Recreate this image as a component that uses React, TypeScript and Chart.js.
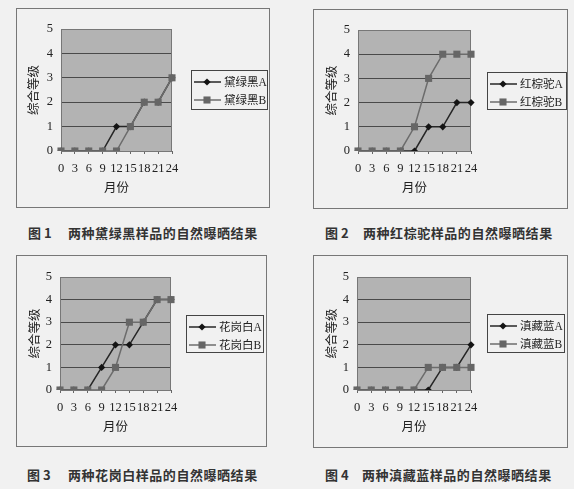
import React, { useEffect, useRef } from "react";
import { Chart, registerables } from "chart.js";

Chart.register(...registerables);

// ---- data ----
const months = ["0", "3", "6", "9", "12", "15", "18", "21", "24"];
const yTitle = "综合等级";
const xTitle = "月份";

const labels1 = ["黛绿黑A", "黛绿黑B"];
const a1 = [0, 0, 0, 0, 1, 1, 2, 2, 3];
const b1 = [0, 0, 0, 0, 0, 1, 2, 2, 3];

const labels2 = ["红棕驼A", "红棕驼B"];
const a2 = [0, 0, 0, 0, 0, 1, 1, 2, 2];
const b2 = [0, 0, 0, 0, 1, 3, 4, 4, 4];

const labels3 = ["花岗白A", "花岗白B"];
const a3 = [0, 0, 0, 1, 2, 2, 3, 4, 4];
const b3 = [0, 0, 0, 0, 1, 3, 3, 4, 4];

const labels4 = ["滇藏蓝A", "滇藏蓝B"];
const a4 = [0, 0, 0, 0, 0, 0, 1, 1, 2];
const b4 = [0, 0, 0, 0, 0, 1, 1, 1, 1];

const figNums = ["图 1", "图 2", "图 3", "图 4"];
const captions = [
  "两种黛绿黑样品的自然曝晒结果",
  "两种红棕驼样品的自然曝晒结果",
  "两种花岗白样品的自然曝晒结果",
  "两种滇藏蓝样品的自然曝晒结果",
];

// ---- styling ----
const FONT_FAMILY = "'Liberation Serif', 'Noto Sans CJK SC', serif";
const X_AXIS_H = 45;
const colorA = "#262626";
const colorB = "#6c6c6c";

type Box = { x: number; y: number; w: number; h: number };
type Area = { left: number; top: number; right: number; bottom: number };
type Leg = { x: number; y: number; w: number; h: number };

function drawMarker(ctx: CanvasRenderingContext2D, style: string, x: number, y: number, r: number, color: string) {
  ctx.fillStyle = color;
  ctx.beginPath();
  if (style === "rectRot") {
    ctx.moveTo(x - r, y);
    ctx.lineTo(x, y - r);
    ctx.lineTo(x + r, y);
    ctx.lineTo(x, y + r);
    ctx.closePath();
  } else {
    const s = Math.SQRT1_2 * r;
    ctx.rect(x - s, y - s, 2 * s, 2 * s);
  }
  ctx.fill();
}

function Panel(props: {
  box: Box;
  area: Area;
  titleX: number;
  legend: Leg;
  labels: string[];
  a: number[];
  b: number[];
  num: string;
  caption: string;
  capX: number;
  capGap: number;
  capY: number;
}) {
  const ref = useRef<HTMLCanvasElement>(null);
  const { box, area, titleX, legend, labels, a, b } = props;

  useEffect(() => {
    if (!ref.current) return;
    const plotPlugin = {
      id: "plotDecor",
      beforeDraw(chart: any) {
        const { ctx, chartArea } = chart;
        const { left, top, right, bottom } = chartArea;
        ctx.save();
        ctx.fillStyle = "#b3b3b3";
        ctx.fillRect(left, top, right - left, bottom - top);
        ctx.restore();
      },
      beforeDatasetsDraw(chart: any) {
        const { ctx, chartArea } = chart;
        const { left, top, right, bottom } = chartArea;
        ctx.save();
        ctx.strokeStyle = "#777";
        ctx.lineWidth = 1;
        ctx.strokeRect(Math.round(left) + 0.5, Math.round(top) + 0.5, Math.round(right - left) - 1, Math.round(bottom - top));
        ctx.restore();
      },
      afterDraw(chart: any) {
        const ctx: CanvasRenderingContext2D = chart.ctx;
        ctx.save();
        ctx.strokeStyle = "#444";
        ctx.lineWidth = 1;
        ctx.strokeRect(legend.x + 0.5, legend.y + 0.5, legend.w, legend.h);
        chart.data.datasets.forEach((ds: any, i: number) => {
          const ry = legend.y + 12 + i * 18;
          ctx.strokeStyle = ds.borderColor;
          ctx.lineWidth = ds.borderWidth;
          ctx.beginPath();
          ctx.moveTo(legend.x + 3, ry);
          ctx.lineTo(legend.x + 30, ry);
          ctx.stroke();
          drawMarker(ctx, ds.pointStyle, legend.x + 16, ry, ds.pointRadius, ds.pointBackgroundColor);
          ctx.fillStyle = "#222";
          ctx.font = "11.5px " + FONT_FAMILY;
          ctx.textBaseline = "middle";
          ctx.textAlign = "left";
          ctx.fillText(ds.label, legend.x + 33, ry + 0.5);
        });
        ctx.restore();
      },
    };

    const font = { family: FONT_FAMILY, size: 12.5 };
    const chart = new Chart(ref.current, {
      type: "line",
      data: {
        labels: months,
        datasets: [
          {
            label: labels[0],
            data: a,
            borderColor: colorA,
            borderWidth: 1.5,
            pointStyle: "rectRot",
            pointRadius: 3.6,
            pointBackgroundColor: "#141414",
            pointBorderWidth: 0,
            tension: 0,
            order: 1,
          },
          {
            label: labels[1],
            data: b,
            borderColor: colorB,
            borderWidth: 1.5,
            pointStyle: "rect",
            pointRadius: 5,
            pointBackgroundColor: "#666",
            pointBorderWidth: 0,
            tension: 0,
            order: 0,
          },
        ],
      },
      options: {
        animation: false,
        responsive: false,
        devicePixelRatio: 1,
        layout: {
          padding: {
            left: 0,
            top: area.top,
            right: box.w - area.right,
            bottom: box.h - area.bottom - X_AXIS_H,
          },
        },
        plugins: { legend: { display: false }, tooltip: { enabled: false } },
        scales: {
          x: {
            type: "category",
            offset: false,
            grid: { display: true, drawOnChartArea: false, drawTicks: true, tickLength: 3, color: "#666" },
            border: { display: false },
            ticks: { color: "#222", font, padding: 7, maxRotation: 0, autoSkip: false },
            title: { display: true, text: xTitle, color: "#222", font, padding: { top: 0, bottom: 0 } },
            afterFit: (s: any) => {
              s.height = X_AXIS_H;
            },
          },
          y: {
            min: 0,
            max: 5,
            ticks: { stepSize: 1, padding: 8, color: "#222", font },
            grid: { color: "#4a4a4a", drawTicks: false },
            border: { display: false },
            title: { display: true, text: yTitle, color: "#222", font, padding: { top: titleX - 7.5, bottom: 0 } },
            afterFit: (s: any) => {
              s.width = area.left;
            },
          },
        },
      },
      plugins: [plotPlugin],
    } as any);
    return () => chart.destroy();
  }, []);

  return (
    <>
      <div
        style={{
          position: "absolute",
          left: box.x,
          top: box.y,
          width: box.w,
          height: box.h,
          boxSizing: "border-box",
          border: "1px solid #777",
        }}
      />
      <canvas
        ref={ref}
        width={box.w}
        height={box.h}
        style={{ position: "absolute", left: box.x, top: box.y, width: box.w, height: box.h }}
      />
      <div
        style={{
          position: "absolute",
          left: props.capX,
          top: props.capY - 8,
          fontFamily: "'Noto Sans CJK SC', sans-serif",
          fontWeight: 700,
          fontSize: 13,
          lineHeight: "16px",
          color: "#333",
          whiteSpace: "nowrap",
        }}
      >
        {props.num}
      </div>
      <div
        style={{
          position: "absolute",
          left: props.capX + props.capGap,
          top: props.capY - 8,
          fontFamily: "'Noto Sans CJK SC', sans-serif",
          fontWeight: 700,
          fontSize: 13,
          letterSpacing: "0.55px",
          lineHeight: "16px",
          color: "#333",
          whiteSpace: "nowrap",
        }}
      >
        {props.caption}
      </div>
    </>
  );
}

export default function App() {
  return (
    <div
      style={{
        position: "fixed",
        left: 0,
        top: 0,
        width: 574,
        height: 489,
        background: "#f1f1f1",
        overflow: "hidden",
      }}
    >
      <Panel
        box={{ x: 16, y: 8, w: 254, h: 200 }}
        area={{ left: 45, top: 21, right: 156, bottom: 143 }}
        titleX={19}
        legend={{ x: 175, y: 62, w: 76, h: 39 }}
        labels={labels1}
        a={a1}
        b={b1}
        num={figNums[0]}
        caption={captions[0]}
        capX={28}
        capGap={40}
        capY={233}
      />
      <Panel
        box={{ x: 313, y: 9, w: 255, h: 200 }}
        area={{ left: 45, top: 21, right: 158, bottom: 142 }}
        titleX={20}
        legend={{ x: 174, y: 63, w: 79, h: 37 }}
        labels={labels2}
        a={a2}
        b={b2}
        num={figNums[1]}
        caption={captions[1]}
        capX={325}
        capGap={38}
        capY={233}
      />
      <Panel
        box={{ x: 16, y: 255, w: 251, h: 192 }}
        area={{ left: 44, top: 22, right: 155, bottom: 135 }}
        titleX={20}
        legend={{ x: 170, y: 60, w: 77, h: 37 }}
        labels={labels3}
        a={a3}
        b={b3}
        num={figNums[2]}
        caption={captions[2]}
        capX={27}
        capGap={41}
        capY={475}
      />
      <Panel
        box={{ x: 313, y: 255, w: 255, h: 193 }}
        area={{ left: 44, top: 22, right: 158, bottom: 135 }}
        titleX={20}
        legend={{ x: 174, y: 59, w: 77, h: 38 }}
        labels={labels4}
        a={a4}
        b={b4}
        num={figNums[3]}
        caption={captions[3]}
        capX={325}
        capGap={37}
        capY={475}
      />
    </div>
  );
}
